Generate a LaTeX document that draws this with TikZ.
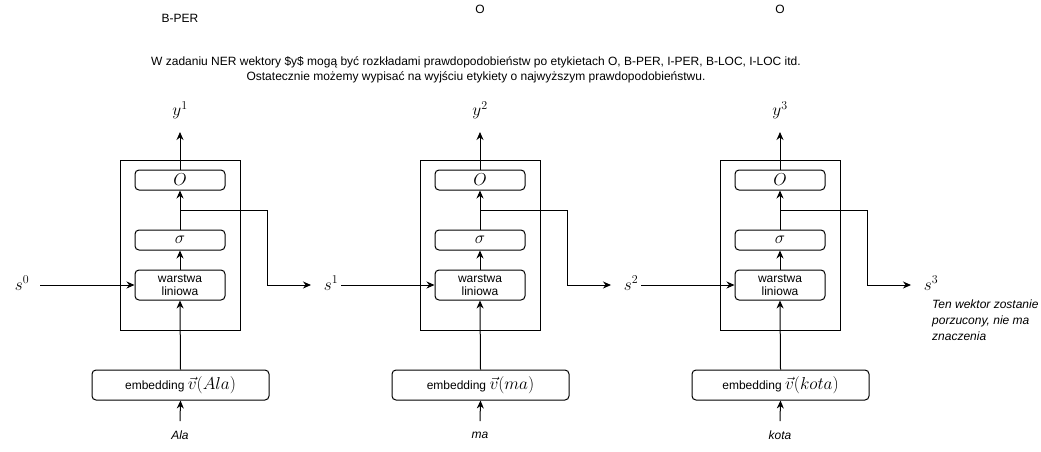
\documentclass[tikz,border=0pt]{standalone}
\usepackage{fontspec}
\setmainfont{Liberation Sans}
\usetikzlibrary{arrows.meta}
\begin{document}
\begin{tikzpicture}[x=1pt,y=-1pt,
  every node/.style={font=\fontsize{12}{14.4}\selectfont, inner sep=0pt},
  box/.style={draw, line width=1pt, rounded corners=4pt, minimum width=90pt, align=center, font=\fontsize{12}{13}\selectfont},
  outerbox/.style={draw, line width=1pt, minimum width=120pt, minimum height=170pt},
  embbox/.style={draw, line width=1pt, rounded corners=4pt, minimum width=177pt, minimum height=30pt},
  mathlbl/.style={font=\fontsize{17}{20}\selectfont},
  conn/.style={line width=1pt, -{Stealth[length=8pt,width=7pt]}},
  plain/.style={line width=1pt}]
\useasboundingbox (0,0) rectangle (1041,451);

% top labels
\node (tag1) at (180,18) {B-PER};
\node (tag2) at (480,9) {O};
\node (tag3) at (780,9) {O};
\node[align=center, font=\fontsize{12}{15}\selectfont] (desc) at (476,70)
  {W zadaniu NER wektory \$y\$ mogą być rozkładami prawdopodobieństw po etykietach O, B-PER, I-PER, B-LOC, I-LOC itd.\\
   Ostatecznie możemy wypisać na wyjściu etykiety o najwyższym prawdopodobieństwu.};

% state labels
\node[mathlbl] (s0) at (22,283) {$s^0$};
\node[mathlbl] (s1) at (331,283) {$s^1$};
\node[mathlbl] (s2) at (631,283) {$s^2$};
\node[mathlbl] (s3) at (931,283) {$s^3$};

\node[anchor=north west, align=left, font=\fontsize{12}{16}\selectfont\itshape] (note) at (932,300)
  {Ten wektor zostanie\\porzucony, nie ma\\znaczenia};

\foreach \i/\dx/\word/\wmath in {1/0/Ala/Ala, 2/300/ma/ma, 3/600/kota/kota} {
  \node[outerbox] (outer\i) at (180+\dx,245) {};
  \node[box, minimum height=20pt, font=\fontsize{16}{16}\selectfont] (O\i) at (180+\dx,180) {$O$};
  \node[box, minimum height=20pt, font=\fontsize{16}{16}\selectfont] (sig\i) at (180+\dx,240) {$\sigma$};
  \node[box, minimum height=30pt] (lin\i) at (180+\dx,285) {warstwa\\liniowa};
  \node[embbox] (emb\i) at (180.5+\dx,385) {embedding {\fontsize{16}{16}\selectfont$\vec{v}(\wmath)$}};
  \node[mathlbl] (y\i) at (180+\dx,110) {$y^{\i}$};
  \node[font=\fontsize{12}{14}\selectfont\itshape] (w\i) at (180+\dx,435) {\word};
  \coordinate (yt\i) at (180+\dx,132);
  \coordinate (ws\i) at (180+\dx,421);
  \coordinate (br\i) at (180+\dx,210);
  \coordinate (bx\i) at (267+\dx,285);
  \coordinate (be\i) at (311+\dx,285);
  \draw[conn] (O\i.north) -- (yt\i);
  \draw[conn] (sig\i.north) -- (O\i.south);
  \draw[conn] (lin\i.north) -- (sig\i.south);
  \draw[conn] (emb\i.north) -- (lin\i.south);
  \draw[conn] (ws\i) -- (emb\i.south);
  \draw[plain] (br\i) -| (bx\i);
  \draw[conn] (bx\i) -- (be\i);
}

\draw[conn] ([xshift=11pt]s0.east |- lin1.west) -- (lin1.west);
\draw[conn] ([xshift=3pt]s1.east |- lin2.west) -- (lin2.west);
\draw[conn] ([xshift=3pt]s2.east |- lin3.west) -- (lin3.west);
\end{tikzpicture}
\end{document}
